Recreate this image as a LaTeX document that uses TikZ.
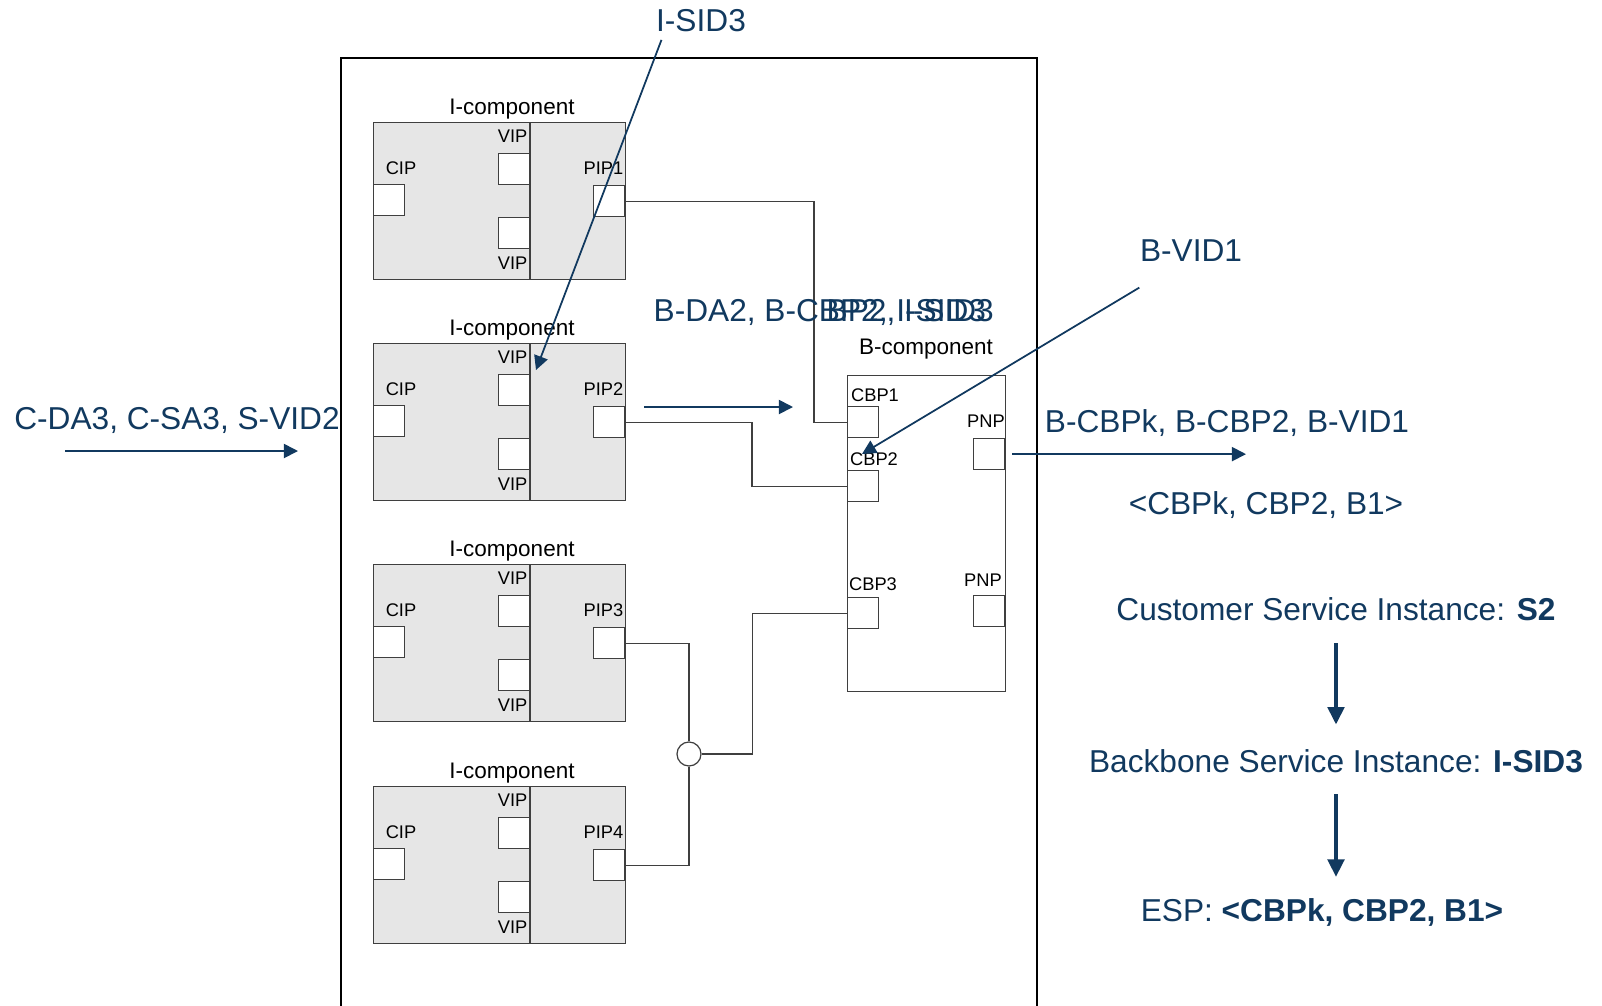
\documentclass[tikz,border=0pt]{standalone}
\usepackage{fontspec}
\setmainfont{Liberation Sans}
\usetikzlibrary{arrows.meta}
\definecolor{navy}{HTML}{11395F}
\definecolor{boxgray}{HTML}{E6E6E6}
\definecolor{edgegray}{HTML}{3F3F3F}
\tikzset{
  icomp/.style={draw=edgegray,fill=boxgray,line width=0.35pt,minimum width=2.52cm,minimum height=1.57cm,anchor=north west,inner sep=0pt},
  port/.style={draw=edgegray,fill=white,line width=0.35pt,minimum size=0.31cm,inner sep=0pt},
  plabel/.style={font=\fontsize{5.2}{6}\selectfont,inner sep=0pt},
  clabel/.style={font=\fontsize{6.4}{7.5}\selectfont,inner sep=0pt},
  tag/.style={font=\fontsize{9}{11}\selectfont,text=navy,inner sep=0pt},
  wire/.style={draw=edgegray,line width=0.35pt},
  flow/.style={draw=navy,line width=0.5pt,-{Triangle[length=4pt,width=4pt]}},
  bigflow/.style={draw=navy,line width=1.4pt,-{Triangle[length=5pt,width=4.6pt]}}
}
\begin{document}
\begin{tikzpicture}[x=0.01cm,y=-0.01cm]
\useasboundingbox (0,0) rectangle (1602,1005);
% bridge frame, open at the bottom
\draw[line width=0.7pt] (341,1020) -- (341,58) -- (1037,58) -- (1037,1020);
% I-components
\foreach \i/\t in {1/122,2/343,3/564,4/786}{
  \node[icomp] (ic\i) at (373,\t) {};
  \draw[wire] (530,\t) -- (530,\t+157);
  \node[port,anchor=north west] (cip\i) at (373,\t+62) {};
  \node[port,anchor=north east] (vipa\i) at (530,\t+31) {};
  \node[port,anchor=north east] (vipb\i) at (530,\t+95) {};
  \node[port,anchor=north east] (pip\i) at (625,\t+63) {};
  \node[clabel] (icl\i) at (512,\t-13) {I-component};
  \node[plabel] (cipl\i) at (401,\t+46) {CIP};
  \node[plabel,anchor=east] (vipal\i) at (528,\t+14) {VIP};
  \node[plabel,anchor=east] (vipbl\i) at (528,\t+141) {VIP};
  \node[plabel,anchor=east] (pipl\i) at (624,\t+46) {PIP\i};
}
% B-component
\node[draw=edgegray,line width=0.35pt,minimum width=1.58cm,minimum height=3.16cm,anchor=north west,inner sep=0pt] (bcomp) at (847,375) {};
\node[clabel] (bcl) at (926,349) {B-component};
\node[port,anchor=north west] (cbp1) at (847,406) {};
\node[port,anchor=north west] (cbp2) at (847,470) {};
\node[port,anchor=north west] (cbp3) at (847,597) {};
\node[port,anchor=north east] (pnp1) at (1005,438) {};
\node[port,anchor=north east] (pnp2) at (1005,595) {};
\node[plabel] (cbpl1) at (875,395) {CBP1};
\node[plabel] (cbpl2) at (874,459) {CBP2};
\node[plabel] (cbpl3) at (873,584) {CBP3};
\node[plabel] (pnpl1) at (986,421) {PNP};
\node[plabel] (pnpl2) at (983,580) {PNP};
% internal links
\node[circle,draw=edgegray,fill=white,line width=0.35pt,minimum size=0.24cm,inner sep=0pt] (junc) at (689,754) {};
\draw[wire] (pip1.east) -- ++(189,0) |- (cbp1.west);
\draw[wire] (pip2.east) -- ++(127,0) |- (cbp2.west);
\draw[wire] (pip3.east) -| (junc.north);
\draw[wire] (pip4.east) -| (junc.south);
\draw[wire] (junc.east) -- ++(51,0) |- (cbp3.west);
% frames in and out
\node[tag] (cdl) at (177,420) {C-DA3, C-SA3, S-VID2};
\coordinate (cin) at (65,451);
\draw[flow] (cin) -- ++(233,0);
\node[tag,anchor=west] (bdl) at (653,312) {B-DA2, B-CBP2, I-SID3};
\node[tag,anchor=west] (bdl2) at (826,312) {BP2, I-SID3};
\coordinate (bin) at (644,407);
\draw[flow] (bin) -- ++(149,0);
\node[tag] (isid) at (701,21) {I-SID3};
\coordinate (isidtip) at (536,370);
\draw[flow] ([shift={(0.06cm,-0.07cm)}]isid.south west) -- (isidtip);
\node[tag] (bvid) at (1191,251) {B-VID1};
\coordinate (bvidtip) at (862,454);
\draw[flow] ([yshift=-0.25cm]bvid.south west) -- (bvidtip);
\draw[flow] ([xshift=0.07cm]pnp1.east) -- ++(234,0);
\node[tag] (bout) at (1227,423) {B-CBPk, B-CBP2, B-VID1};
\node[tag] (espl) at (1266,505) {<CBPk, CBP2, B1>};
% service mapping
\node[tag] (csi) at (1336,609) {Customer Service Instance: \textbf{S2}};
\node[tag] (bsi) at (1336,761) {Backbone Service Instance: \textbf{I-SID3}};
\node[tag] (esp) at (1322,912) {ESP: \textbf{<CBPk, CBP2, B1>}};
\coordinate (esptop) at (1336,877);
\draw[bigflow] ([yshift=-0.22cm]csi.south) -- ([yshift=0.24cm]bsi.north);
\draw[bigflow] ([yshift=-0.21cm]bsi.south) -- (esptop);
\end{tikzpicture}
\end{document}
